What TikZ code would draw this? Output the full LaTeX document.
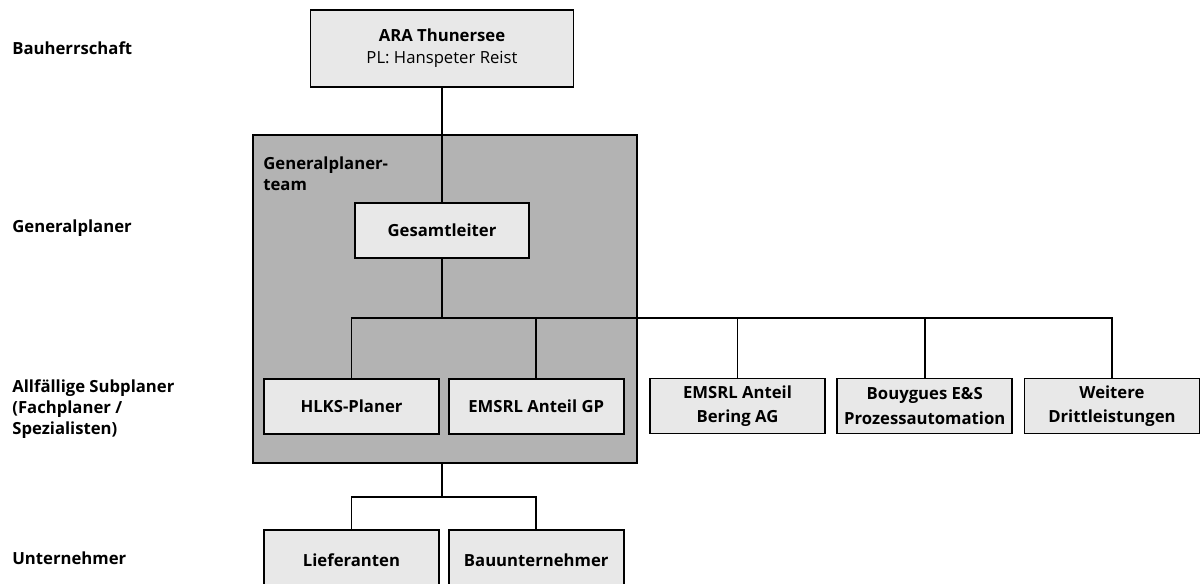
\documentclass[tikz,border=0pt]{standalone}
\usepackage{fontspec}
\setmainfont{Open Sans}
\usepackage{tikz}
\usetikzlibrary{positioning}

\definecolor{boxfill}{HTML}{E8E8E8}
\definecolor{teamfill}{HTML}{B3B3B3}
\tikzset{
  orgbox/.style={draw, line width=1pt, fill=boxfill, minimum width=3.5cm, minimum height=1.1cm,
    inner sep=1pt, align=center, font=\fontsize{9.5}{14}\selectfont\bfseries},
  levellabel/.style={anchor=west, align=left, inner sep=0pt, font=\fontsize{9.5}{12}\selectfont\bfseries},
  orgline/.style={line width=1pt},
}

\begin{document}
\begin{tikzpicture}[x=0.02cm,y=-0.02cm]
\useasboundingbox (0,0) rectangle (1200,584);
\clip (0,0) rectangle (1200,584);

    % level names on the left
    \node[levellabel] (lvlbau) at (12,48) {Bauherrschaft};
    \node[levellabel] (lvlgp) at (12,228) {Generalplaner};
    \node[levellabel] (lvlsub) at (12,409) {Allfällige Subplaner\\(Fachplaner /\\Spezialisten)};
    \node[levellabel] (lvlun) at (12,558) {Unternehmer};

    % the team frame
    \node[draw, line width=1pt, fill=teamfill, minimum width=7.68cm, minimum height=6.56cm] (team) at (445,299) {};
    \node[levellabel, anchor=north west] (teamlabel) at (263,156) {Generalplaner-\\team};

    % boxes
    \node[orgbox, minimum width=5.26cm, minimum height=1.54cm, font=\fontsize{9.5}{12.5}\selectfont] (ara) at (442,48.5) {\textbf{ARA Thunersee}\\PL: Hanspeter Reist};
    \node[orgbox, minimum width=3.48cm] (gesamt) at (442,230.5) {Gesamtleiter};

    \node[orgbox] (hlks) at (351.5,406.5) {HLKS-Planer};
    \node[orgbox, right=0.16cm of hlks] (emsgp) {EMSRL Anteil GP};
    \node[orgbox] (bering) at (737.5,406) {EMSRL Anteil\\Bering AG};
    \node[orgbox, right=0.21cm of bering] (bouygues) {Bouygues E\&S\\Prozessautomation};
    \node[orgbox, right=0.21cm of bouygues] (weitere) {Weitere\\Drittleistungen};

    \node[orgbox, minimum height=1.2cm] (lief) at (351.5,560) {Lieferanten};
    \node[orgbox, minimum height=1.2cm, right=0.16cm of lief] (bau) {Bauunternehmer};

    % branching points
    \coordinate (bar) at (442,318);
    \coordinate (low) at (442,497);

    \draw[orgline] (ara.south) -- (gesamt.north);
    \draw[orgline] (gesamt.south) -- (bar);
    \foreach \n in {hlks,emsgp,bering,bouygues,weitere} {
      \draw[orgline] (\n.north) |- (bar);
    }
    \draw[orgline] (low |- team.south) -- (low);
    \foreach \n in {lief,bau} {
      \draw[orgline] (\n.north) |- (low);
    }

\end{tikzpicture}
\end{document}
